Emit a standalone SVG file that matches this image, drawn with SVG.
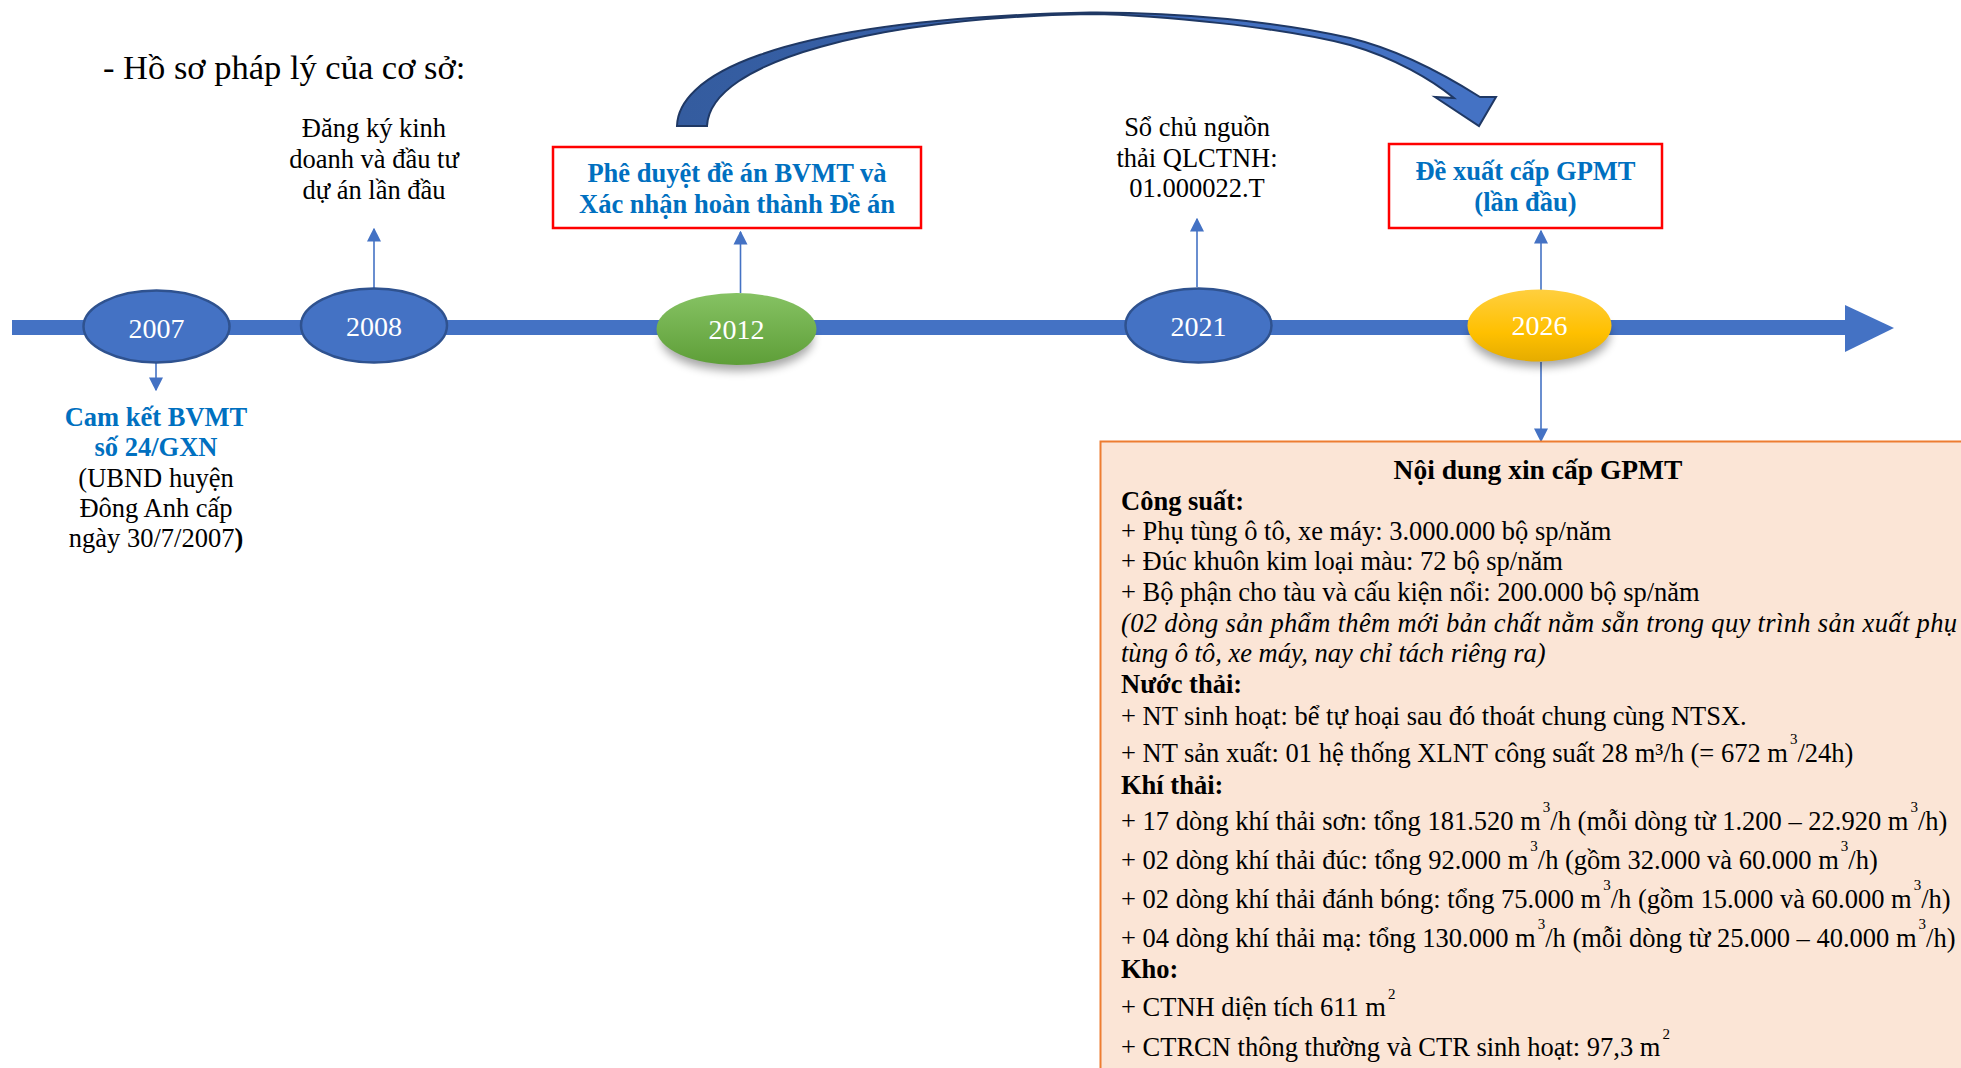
<svg xmlns="http://www.w3.org/2000/svg" width="1961" height="1068" viewBox="0 0 1961 1068">
<style>
text{font-family:"Liberation Serif","Times New Roman",serif;fill:#000}
.lbl{font-size:26.5px;text-anchor:middle}
.blue{fill:#0070C0;font-weight:bold}
.yr{font-size:28px;fill:#fff;text-anchor:middle}
.ell{fill:#4472C4;stroke:#2F528F;stroke-width:2.5}
.con{stroke:#4472C4;stroke-width:1.6;fill:none}
.redbox{fill:#fff;stroke:#FF0000;stroke-width:2.5}
.bx{font-size:26.5px}
.b{font-weight:bold}
.i{font-style:italic}
.sup{font-size:15px}
</style>
<defs>
<marker id="ah" viewBox="0 0 10 10" refX="9" refY="5" markerWidth="14" markerHeight="16" markerUnits="userSpaceOnUse" orient="auto">
<path d="M0,0 L10,5 L0,10 Z" fill="#4472C4"/>
</marker>
<linearGradient id="gGreen" x1="0" y1="0" x2="0" y2="1">
<stop offset="0" stop-color="#86C263"/>
<stop offset="1" stop-color="#5E9E38"/>
</linearGradient>
<linearGradient id="gGold" x1="0" y1="0" x2="0" y2="1">
<stop offset="0" stop-color="#FFCF3F"/>
<stop offset="0.6" stop-color="#FFC000"/>
<stop offset="1" stop-color="#E5AC00"/>
</linearGradient>
<linearGradient id="gArc" gradientUnits="userSpaceOnUse" x1="680" y1="0" x2="1500" y2="0">
<stop offset="0" stop-color="#345C9F"/>
<stop offset="0.5" stop-color="#3A63AE"/>
<stop offset="0.75" stop-color="#4472C4"/>
<stop offset="1" stop-color="#4472C4"/>
</linearGradient>
<filter id="sh" x="-30%" y="-30%" width="160%" height="180%">
<feGaussianBlur stdDeviation="5"/>
</filter>
</defs>

<text x="103" y="79" style="font-size:34.5px">- Hồ sơ pháp lý của cơ sở:</text>

<g id="timeline">
<rect x="12" y="320" width="1835" height="15" fill="#4472C4"/>
<path d="M1845,305 L1894,328 L1845,352 Z" fill="#4472C4"/>
</g>

<g id="curved-arrow">
<path d="M677,126 C678,80 760,20 1090,12.5 C1180,12 1280,22 1350,38 C1400,50 1450,78 1480,97 L1496,97 L1479,126 L1435,97 L1454,98 C1432,80 1395,58 1350,45 C1280,27 1160,15 1090,14 C880,18 710,60 707,126 Z" fill="url(#gArc)" stroke="#1F3864" stroke-width="2" stroke-linejoin="miter"/>
</g>

<g id="connectors">
<line class="con" x1="156" y1="363" x2="156" y2="390" marker-end="url(#ah)"/>
<line class="con" x1="374" y1="288" x2="374" y2="229" marker-end="url(#ah)"/>
<line class="con" x1="740.5" y1="293" x2="740.5" y2="232" marker-end="url(#ah)"/>
<line class="con" x1="1197" y1="287" x2="1197" y2="219" marker-end="url(#ah)"/>
<line class="con" x1="1541" y1="293" x2="1541" y2="231" marker-end="url(#ah)"/>
<line class="con" x1="1541" y1="362" x2="1541" y2="441" marker-end="url(#ah)"/>
</g>

<g id="node-2007">
<ellipse class="ell" cx="156.5" cy="326.5" rx="73" ry="36"/>
<text class="yr" x="156.5" y="338">2007</text>
</g>
<g id="node-2008">
<ellipse class="ell" cx="374" cy="325.5" rx="73" ry="37"/>
<text class="yr" x="374" y="336">2008</text>
</g>
<g id="node-2012">
<ellipse cx="737" cy="339" rx="76" ry="32" fill="#000" opacity="0.35" filter="url(#sh)"/>
<ellipse cx="736.5" cy="329" rx="80" ry="36" fill="url(#gGreen)"/>
<text class="yr" x="736.5" y="339">2012</text>
</g>
<g id="node-2021">
<ellipse class="ell" cx="1198.5" cy="325.5" rx="73" ry="37"/>
<text class="yr" x="1198.5" y="336">2021</text>
</g>
<g id="node-2026">
<ellipse cx="1540" cy="335" rx="70" ry="32" fill="#000" opacity="0.35" filter="url(#sh)"/>
<ellipse cx="1539.5" cy="325.5" rx="72" ry="36" fill="url(#gGold)"/>
<text class="yr" x="1539.5" y="335">2026</text>
</g>

<g id="label-2007">
<text class="lbl blue" x="156" y="426">Cam kết BVMT</text>
<text class="lbl blue" x="156" y="456">số 24/GXN</text>
<text class="lbl" x="156" y="487">(UBND huyện</text>
<text class="lbl" x="156" y="517">Đông Anh cấp</text>
<text class="lbl" x="156" y="547">ngày 30/7/2007<tspan class="b">)</tspan></text>
</g>

<g id="label-2008">
<text class="lbl" x="374" y="137">Đăng ký kinh</text>
<text class="lbl" x="374" y="168">doanh và đầu tư</text>
<text class="lbl" x="374" y="199">dự án lần đầu</text>
</g>

<g id="label-2012">
<rect class="redbox" x="553" y="147" width="368" height="81"/>
<text class="lbl blue" x="737" y="182">Phê duyệt đề án BVMT và</text>
<text class="lbl blue" x="737" y="213">Xác nhận hoàn thành Đề án</text>
</g>

<g id="label-2021">
<text class="lbl" x="1197" y="136">Sổ chủ nguồn</text>
<text class="lbl" x="1197" y="167">thải QLCTNH:</text>
<text class="lbl" x="1197" y="197">01.000022.T</text>
</g>

<g id="label-2026">
<rect class="redbox" x="1389" y="144" width="273" height="84"/>
<text class="lbl blue" x="1525.5" y="180">Đề xuất cấp GPMT</text>
<text class="lbl blue" x="1525.5" y="211">(lần đầu)</text>
</g>

<g id="content-box">
<rect x="1100.5" y="441.5" width="900" height="700" fill="#FBE5D6" stroke="#ED7D31" stroke-width="2"/>
<text class="bx b" x="1538" y="479" style="font-size:27.5px" text-anchor="middle">Nội dung xin cấp GPMT</text>
<text class="bx b" x="1121" y="510">Công suất:</text>
<text class="bx" x="1121" y="540">+ Phụ tùng ô tô, xe máy: 3.000.000 bộ sp/năm</text>
<text class="bx" x="1121" y="570">+ Đúc khuôn kim loại màu: 72 bộ sp/năm</text>
<text class="bx" x="1121" y="601">+ Bộ phận cho tàu và cấu kiện nổi: 200.000 bộ sp/năm</text>
<text class="bx i" x="1121" y="632" textLength="836" lengthAdjust="spacing">(02 dòng sản phẩm thêm mới bản chất nằm sẵn trong quy trình sản xuất phụ</text>
<text class="bx i" x="1121" y="662">tùng ô tô, xe máy, nay chỉ tách riêng ra)</text>
<text class="bx b" x="1121" y="693">Nước thải:</text>
<text class="bx" x="1121" y="725">+ NT sinh hoạt: bể tự hoại sau đó thoát chung cùng NTSX.</text>
<text class="bx" x="1121" y="762">+ NT sản xuất: 01 hệ thống XLNT công suất 28 m³/h (= 672 m<tspan class="sup" dx="2" dy="-18">3</tspan><tspan dy="18">/24h)</tspan></text>
<text class="bx b" x="1121" y="794">Khí thải:</text>
<text class="bx" x="1121" y="830">+ 17 dòng khí thải sơn: tổng 181.520 m<tspan class="sup" dx="2" dy="-18">3</tspan><tspan dy="18">/h (mỗi dòng từ 1.200 – 22.920 m</tspan><tspan class="sup" dx="2" dy="-18">3</tspan><tspan dy="18">/h)</tspan></text>
<text class="bx" x="1121" y="869">+ 02 dòng khí thải đúc: tổng 92.000 m<tspan class="sup" dx="2" dy="-18">3</tspan><tspan dy="18">/h (gồm 32.000 và 60.000 m</tspan><tspan class="sup" dx="2" dy="-18">3</tspan><tspan dy="18">/h)</tspan></text>
<text class="bx" x="1121" y="908">+ 02 dòng khí thải đánh bóng: tổng 75.000 m<tspan class="sup" dx="2" dy="-18">3</tspan><tspan dy="18">/h (gồm 15.000 và 60.000 m</tspan><tspan class="sup" dx="2" dy="-18">3</tspan><tspan dy="18">/h)</tspan></text>
<text class="bx" x="1121" y="947">+ 04 dòng khí thải mạ: tổng 130.000 m<tspan class="sup" dx="2" dy="-18">3</tspan><tspan dy="18">/h (mỗi dòng từ 25.000 – 40.000 m</tspan><tspan class="sup" dx="2" dy="-18">3</tspan><tspan dy="18">/h)</tspan></text>
<text class="bx b" x="1121" y="978">Kho:</text>
<text class="bx" x="1121" y="1016">+ CTNH diện tích 611 m<tspan class="sup" dx="2" dy="-17">2</tspan></text>
<text class="bx" x="1121" y="1056">+ CTRCN thông thường và CTR sinh hoạt: 97,3 m<tspan class="sup" dx="2" dy="-17">2</tspan></text>
</g>
</svg>
